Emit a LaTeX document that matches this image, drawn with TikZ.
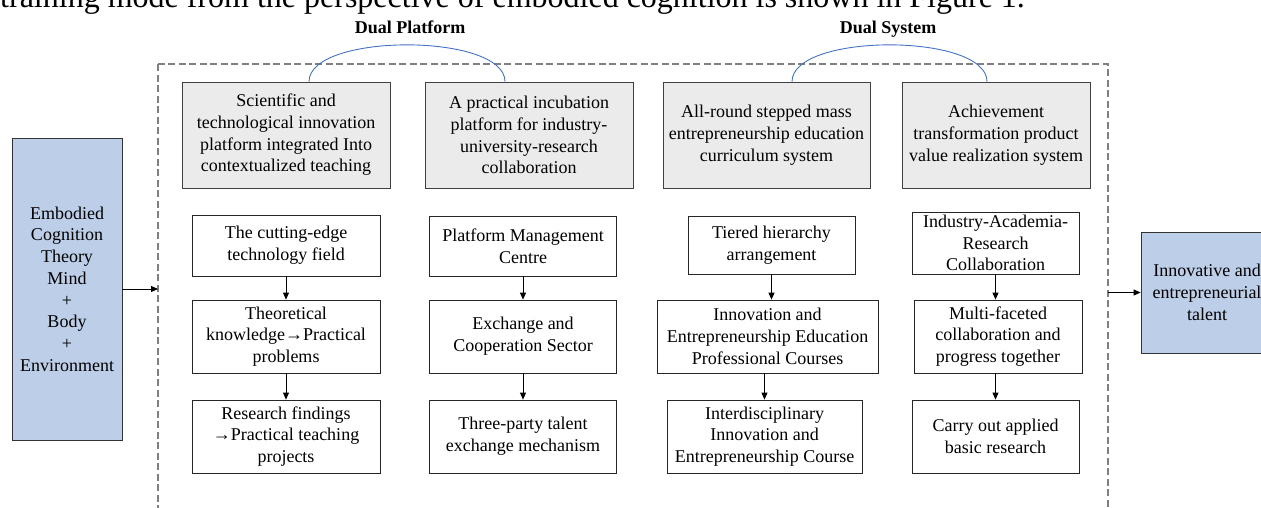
\documentclass[tikz,border=0pt]{standalone}
\usepackage{fontspec}
\setmainfont{Liberation Serif}
\usetikzlibrary{arrows.meta}

\definecolor{platformGray}{RGB}{235,235,235}
\definecolor{theoryBlue}{RGB}{189,207,232}
\definecolor{arcBlue}{RGB}{68,114,196}
\definecolor{frameGray}{RGB}{128,128,128}

\tikzset{
  boxtext/.style={font=\fontsize{18}{21.7}\selectfont, align=center, inner sep=0pt},
  platformbox/.style={boxtext, draw=black!75, fill=platformGray, line width=0.8pt, minimum height=106pt},
  stepbox/.style={boxtext, draw=black!85, line width=0.8pt},
  endbox/.style={boxtext, draw=black!80, fill=theoryBlue, line width=0.8pt},
  arr/.style={-{Triangle[length=7pt,width=6pt]}, line width=0.8pt},
  link/.style={arcBlue, line width=0.9pt},
  frame/.style={frameGray, line width=1.1pt, dash pattern=on 7pt off 3.5pt},
}

\begin{document}
\begin{tikzpicture}[x=1pt,y=-1pt]
  \useasboundingbox (0,0) rectangle (1261,507);
  \clip (0,0) rectangle (1261,507);
  % Running text above the figure
  \node[anchor=base west, inner sep=0pt, font=\fontsize{32}{38}\selectfont] (caption) at (0,7)
    {training mode from the perspective of embodied cognition is shown in Figure 1.};
  \node[anchor=base, inner sep=0pt, font=\fontsize{18}{21.7}\selectfont\bfseries] (dualP) at (410,33) {Dual Platform};
  \node[anchor=base, inner sep=0pt, font=\fontsize{18}{21.7}\selectfont\bfseries] (dualS) at (888,33) {Dual System};
  % Frame
  \draw[frame] (158,64) rectangle (1108,540);
  \coordinate (frameW) at (158,0);
  \coordinate (frameE) at (1108,0);
  % Platforms and systems
  \node[platformbox, minimum width=208pt] (t1) at (286,135)
    {Scientific and\\technological innovation\\platform integrated Into\\contextualized teaching};
  \node[platformbox, minimum width=208pt] (t2) at (529,135)
    {A practical incubation\\platform for industry-\\university-research\\collaboration};
  \node[platformbox, minimum width=207pt] (t3) at (766.5,135)
    {All-round stepped mass\\entrepreneurship education\\curriculum system};
  \node[platformbox, minimum width=188pt] (t4) at (996,135)
    {Achievement\\transformation product\\value realization system};
  \draw[link] ([xshift=23pt]t1.north) .. controls +(0,-49) and +(0,-49) .. ([xshift=-24pt]t2.north);
  \draw[link] ([xshift=25.5pt]t3.north) .. controls +(0,-49) and +(0,-49) .. ([xshift=-9pt]t4.north);
  % Column 1
  \node[stepbox, minimum width=188pt, minimum height=61pt] (a1) at (286,245.5) {The cutting-edge\\technology field};
  \node[stepbox, minimum width=188pt, minimum height=73pt] (a2) at (286,336.5) {Theoretical\\knowledge→Practical\\problems};
  \node[stepbox, minimum width=188pt, minimum height=73pt] (a3) at (286,436.5) {Research findings\\→Practical teaching\\projects};
  \draw[arr] (a1) -- (a2);
  \draw[arr] (a2) -- (a3);
  % Column 2
  \node[stepbox, minimum width=187pt, minimum height=60pt] (b1) at (523,246) {Platform Management\\Centre};
  \node[stepbox, minimum width=187pt, minimum height=73pt] (b2) at (523,336.5) {Exchange and\\Cooperation Sector};
  \node[stepbox, minimum width=187pt, minimum height=73pt] (b3) at (523,436.5) {Three-party talent\\exchange mechanism};
  \draw[arr] (b1) -- (b2);
  \draw[arr] (b2) -- (b3);
  % Column 3
  \node[stepbox, minimum width=167pt, minimum height=58pt] (c1) at (771.5,245) {Tiered hierarchy\\arrangement};
  \node[stepbox, minimum width=221pt, minimum height=73pt] (c2) at (767.5,336.5) {Innovation and\\Entrepreneurship Education\\Professional Courses};
  \node[stepbox, minimum width=195pt, minimum height=73pt] (c3) at (764.5,436.5) {Interdisciplinary\\Innovation and\\Entrepreneurship Course};
  \draw[arr] (c1.south) -- (c1.south |- c2.north);
  \draw[arr] (c3.north |- c2.south) -- (c3.north);
  % Column 4
  \node[stepbox, minimum width=167pt, minimum height=62pt] (d1) at (995.5,243) {Industry-Academia-\\Research\\Collaboration};
  \node[stepbox, minimum width=168pt, minimum height=73pt] (d2) at (998,336.5) {Multi-faceted\\collaboration and\\progress together};
  \node[stepbox, minimum width=167pt, minimum height=73pt] (d3) at (995.5,436.5) {Carry out applied\\basic research};
  \draw[arr] (d1.south) -- (d1.south |- d2.north);
  \draw[arr] (d3.north |- d2.south) -- (d3.north);
  % Input and output
  \node[endbox, minimum width=110pt, minimum height=302pt] (theory) at (67,289)
    {Embodied\\Cognition\\Theory\\Mind\\+\\Body\\+\\Environment};
  \node[endbox, minimum width=132pt, minimum height=121pt] (talent) at (1207,292.5)
    {Innovative and\\entrepreneurial\\talent};
  \draw[arr] (theory.east) -- (theory.east -| frameW);
  \draw[arr] (frameE |- talent.west) -- (talent.west);
\end{tikzpicture}
\end{document}
